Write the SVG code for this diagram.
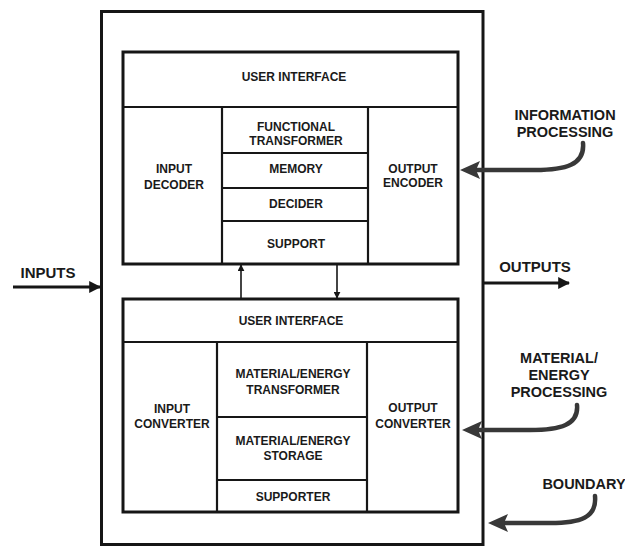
<svg xmlns="http://www.w3.org/2000/svg" width="625" height="552" viewBox="0 0 625 552">
<defs>
<style>
.box{fill:none;stroke:#161616;stroke-width:3}
.div{fill:none;stroke:#161616;stroke-width:2.2}
.t{font-family:"Liberation Sans",Arial,sans-serif;font-weight:bold;font-size:12px;fill:#1a1a1a;text-anchor:middle}
.lbl{font-family:"Liberation Sans",Arial,sans-serif;font-weight:bold;font-size:14.5px;fill:#1a1a1a;text-anchor:middle}
.thin{fill:none;stroke:#161616;stroke-width:1.6}
.curve{fill:none;stroke:#383838;stroke-width:4.5;stroke-linecap:round}
.head{fill:#383838}
</style>
<marker id="ah" viewBox="0 0 10 10" refX="9" refY="5" markerWidth="7" markerHeight="7" markerUnits="userSpaceOnUse" orient="auto">
<path d="M0,0 L10,5 L0,10 z" fill="#161616"/>
</marker>
<marker id="ahb" viewBox="0 0 10 10" refX="9" refY="5" markerWidth="12" markerHeight="12" markerUnits="userSpaceOnUse" orient="auto">
<path d="M0,0 L10,5 L0,10 z" fill="#161616"/>
</marker>
</defs>
<rect width="625" height="552" fill="#ffffff"/>

<g id="boundary">
<rect class="box" x="101.5" y="11.5" width="381.5" height="533"/>
</g>

<g id="info-subsystem">
<rect class="box" x="123" y="52" width="335" height="212"/>
<line class="div" x1="123" y1="107" x2="458" y2="107"/>
<line class="div" x1="222" y1="107" x2="222" y2="264"/>
<line class="div" x1="368" y1="107" x2="368" y2="264"/>
<line class="div" x1="222" y1="153" x2="368" y2="153"/>
<line class="div" x1="222" y1="188" x2="368" y2="188"/>
<line class="div" x1="222" y1="221" x2="368" y2="221"/>
<text class="t" x="294" y="81">USER INTERFACE</text>
<text class="t" x="296" y="131">FUNCTIONAL</text>
<text class="t" x="296" y="144.5">TRANSFORMER</text>
<text class="t" x="296" y="172.5">MEMORY</text>
<text class="t" x="296" y="207.5">DECIDER</text>
<text class="t" x="296" y="247.5">SUPPORT</text>
<text class="t" x="174" y="172.5">INPUT</text>
<text class="t" x="174" y="188.5">DECODER</text>
<text class="t" x="413" y="172.5">OUTPUT</text>
<text class="t" x="413" y="186.5">ENCODER</text>
</g>

<g id="matter-subsystem">
<rect class="box" x="123" y="299" width="335" height="213"/>
<line class="div" x1="123" y1="342" x2="458" y2="342"/>
<line class="div" x1="217" y1="342" x2="217" y2="512"/>
<line class="div" x1="367" y1="342" x2="367" y2="512"/>
<line class="div" x1="217" y1="417" x2="367" y2="417"/>
<line class="div" x1="217" y1="480" x2="367" y2="480"/>
<text class="t" x="291" y="324.5">USER INTERFACE</text>
<text class="t" x="293" y="377.5">MATERIAL/ENERGY</text>
<text class="t" x="293" y="393.5">TRANSFORMER</text>
<text class="t" x="293" y="444.5">MATERIAL/ENERGY</text>
<text class="t" x="293" y="459.5">STORAGE</text>
<text class="t" x="293" y="500.5">SUPPORTER</text>
<text class="t" x="172" y="412.5">INPUT</text>
<text class="t" x="172" y="427.5">CONVERTER</text>
<text class="t" x="413" y="411.5">OUTPUT</text>
<text class="t" x="413" y="427.5">CONVERTER</text>
</g>

<g id="labels">
<text class="lbl" x="48" y="278" style="font-size:15px">INPUTS</text>
<text class="lbl" x="535" y="272" style="font-size:15px">OUTPUTS</text>
<text class="lbl" x="565" y="120">INFORMATION</text>
<text class="lbl" x="565" y="137">PROCESSING</text>
<text class="lbl" x="559" y="363">MATERIAL/</text>
<text class="lbl" x="559" y="380">ENERGY</text>
<text class="lbl" x="559" y="397">PROCESSING</text>
<text class="lbl" x="584" y="489">BOUNDARY</text>
</g>

<g id="connectors">
<line class="thin" x1="241" y1="299" x2="241" y2="265" marker-end="url(#ah)"/>
<line class="thin" x1="337" y1="264" x2="337" y2="298" marker-end="url(#ah)"/>
<line x1="13" y1="287" x2="100" y2="287" stroke="#161616" stroke-width="3" marker-end="url(#ahb)"/>
<line x1="483" y1="283" x2="569" y2="283" stroke="#161616" stroke-width="3" marker-end="url(#ahb)"/>
<path class="curve" d="M583,143 C585,165 565,170 535,170 L476,170"/>
<path class="head" d="M460,170 L480,161 L476,170 L480,179 Z"/>
<path class="curve" d="M577,405 C579,425 560,430 530,430 L478,430"/>
<path class="head" d="M462,430 L482,421 L478,430 L482,439 Z"/>
<path class="curve" d="M595,496 C597,518 580,523 550,523 L504,523"/>
<path class="head" d="M488,523 L508,514 L504,523 L508,532 Z"/>
</g>
</svg>
